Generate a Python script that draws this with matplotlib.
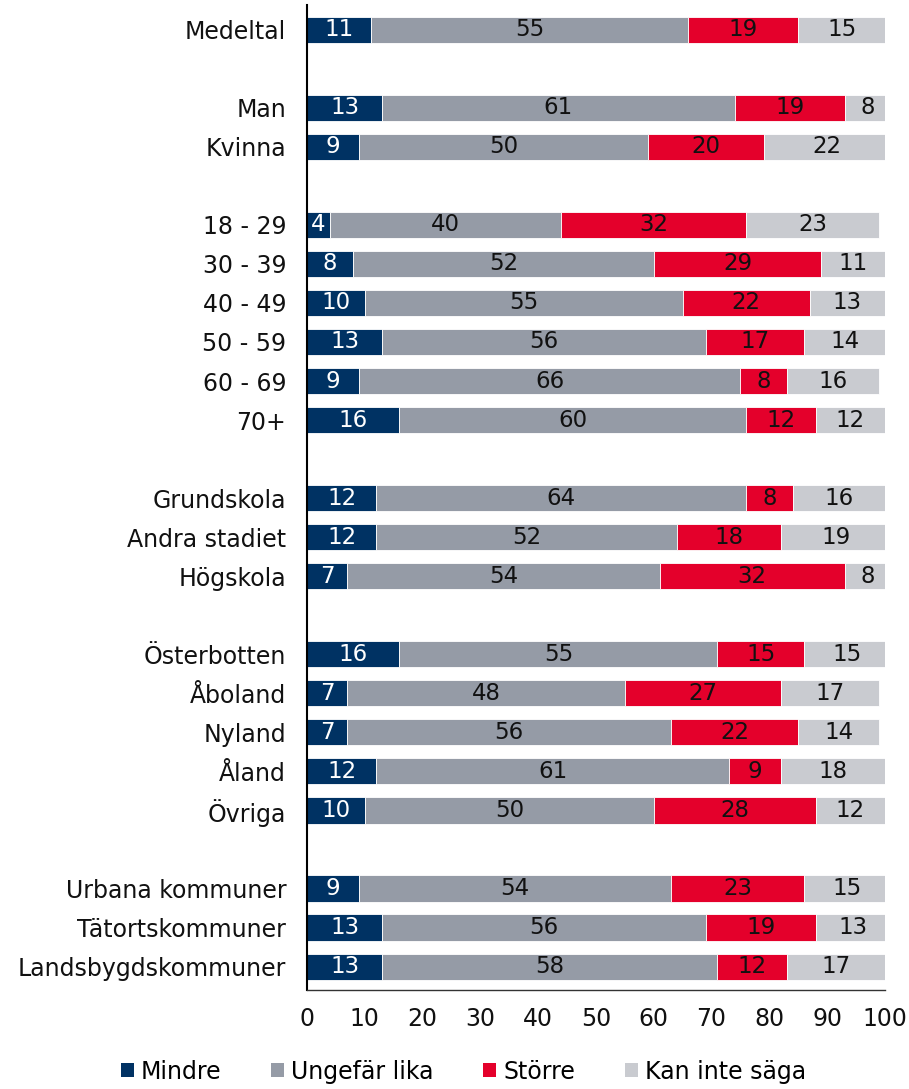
import numpy as np
import matplotlib.pyplot as plt
from matplotlib.patches import Patch

# Categories (top to bottom), None = blank separator row
categories = ["Medeltal", None,
              "Man", "Kvinna", None,
              "18 - 29", "30 - 39", "40 - 49", "50 - 59", "60 - 69", "70+", None,
              "Grundskola", "Andra stadiet", "Högskola", None,
              "Österbotten", "Åboland", "Nyland", "Åland", "Övriga", None,
              "Urbana kommuner", "Tätortskommuner", "Landsbygdskommuner"]

mindre = [11, 13, 9, 4, 8, 10, 13, 9, 16, 12, 12, 7, 16, 7, 7, 12, 10, 9, 13, 13]
ungefar = [55, 61, 50, 40, 52, 55, 56, 66, 60, 64, 52, 54, 55, 48, 56, 61, 50, 54, 56, 58]
storre = [19, 19, 20, 32, 29, 22, 17, 8, 12, 8, 18, 32, 15, 27, 22, 9, 28, 23, 19, 12]
kan_inte = [15, 8, 22, 23, 11, 13, 14, 16, 12, 16, 19, 8, 15, 17, 14, 18, 12, 15, 13, 17]

series_names = ["Mindre", "Ungefär lika", "Större", "Kan inte säga"]
colors = ["#003263", "#959ba6", "#e4002b", "#c9cbd0"]
text_colors = ["white", "#111111", "#111111", "#111111"]

plt.rcParams['font.family'] = ['DejaVu Sans']

fig = plt.figure(figsize=(9.09, 10.89), dpi=100)
ax = fig.add_axes([0.3377, 0.0909, 0.6359, 0.9041])

ypos = [i for i, c in enumerate(categories) if c is not None]
labels = [c for c in categories if c is not None]
data = np.array([mindre, ungefar, storre, kan_inte])

left = np.zeros(len(ypos))
for k in range(4):
    vals = data[k]
    ax.barh(ypos, vals, left=left, height=0.67, color=colors[k],
            edgecolor="white", linewidth=0.6)
    for y, l, v in zip(ypos, left, vals):
        ax.text(l + v / 2, y, str(v), ha="center", va="center",
                fontsize=16.5, color=text_colors[k])
    left += vals

ax.set_yticks(ypos)
ax.set_yticklabels(labels, fontsize=17)
ax.set_ylim(24.6, -0.62)
ax.set_xlim(0, 100)
ax.set_xticks(range(0, 101, 10))
ax.tick_params(axis="both", length=0, labelsize=17, colors="#111111")
ax.tick_params(axis="y", pad=15)
ax.tick_params(axis="x", pad=12)

for s in ["top", "right"]:
    ax.spines[s].set_visible(False)
ax.spines["left"].set_color("black")
ax.spines["left"].set_linewidth(1.5)
ax.spines["bottom"].set_color("#333333")
ax.spines["bottom"].set_linewidth(1.0)

handles = [Patch(facecolor=c, edgecolor="none") for c in colors]
fig.legend(handles, series_names, loc="center", bbox_to_anchor=(0.51, 0.016),
           ncol=4, frameon=False, fontsize=17, handlelength=0.55, handleheight=0.55,
           handletextpad=0.3, columnspacing=2.1)

fig.savefig("out.png", dpi=100)
